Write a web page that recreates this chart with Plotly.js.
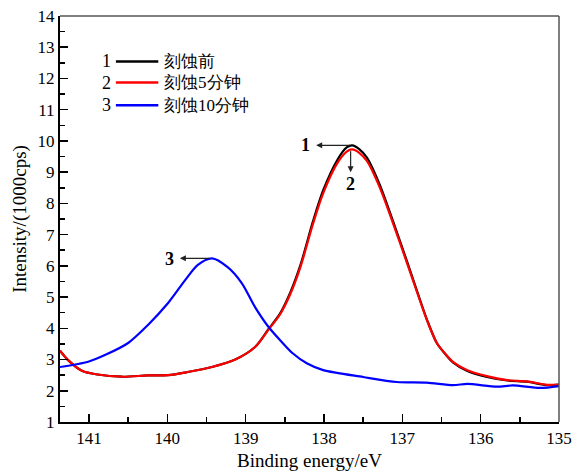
<!DOCTYPE html>
<html><head><meta charset="utf-8">
<script src="https://cdn.plot.ly/plotly-3.0.1.min.js"></script>
<style>html,body{margin:0;padding:0;background:#fff}#chart{width:578px;height:472px}</style>
</head><body><div id="chart"></div>
<script>
const seriesNames = ['刻蚀前', '刻蚀5分钟', '刻蚀10分钟'];
const seriesLabels = ['1', '2', '3'];
const seriesColors = ['#000000', '#ff0000', '#0000ff'];

const xRB = [141.37,141.27,141.09,140.89,140.58,140.25,139.99,139.74,139.43,139.14,138.88,138.71,138.56,138.43,138.30,138.14,138.01,137.83,137.71,137.64,137.55,137.45,137.29,137.12,136.94,136.77,136.68,136.56,136.45,136.35,136.17,135.92,135.66,135.41,135.15,135.00];
const yRed = [3.28,2.99,2.64,2.52,2.45,2.49,2.50,2.60,2.76,2.99,3.40,3.95,4.45,5.10,5.97,7.35,8.33,9.29,9.66,9.73,9.62,9.35,8.52,7.37,6.09,4.85,4.22,3.53,3.18,2.92,2.66,2.47,2.34,2.30,2.19,2.20];
const yBlack = [3.28,2.99,2.64,2.52,2.45,2.49,2.50,2.60,2.76,2.99,3.40,3.97,4.48,5.15,6.03,7.43,8.42,9.39,9.79,9.86,9.74,9.46,8.61,7.44,6.14,4.88,4.24,3.53,3.17,2.90,2.63,2.44,2.33,2.29,2.18,2.20];

const xBlue = [141.37,141.01,140.79,140.50,140.25,139.99,139.77,139.61,139.43,139.23,139.05,138.88,138.71,138.56,138.40,138.22,138.01,137.50,137.07,136.69,136.35,136.17,135.79,135.59,135.24,135.00];
const yBlue = [2.76,2.93,3.15,3.53,4.10,4.81,5.55,6.03,6.24,5.96,5.45,4.68,4.05,3.62,3.20,2.88,2.66,2.44,2.28,2.26,2.18,2.22,2.13,2.17,2.09,2.15];

const serif = 'Liberation Serif';

const traces = [
  {x: xRB, y: yBlack, mode: 'lines', line: {color: seriesColors[0], width: 2.2, shape: 'spline', smoothing: 0.8}, name: seriesNames[0]},
  {x: xRB, y: yRed, mode: 'lines', line: {color: seriesColors[1], width: 2.2, shape: 'spline', smoothing: 0.8}, name: seriesNames[1]},
  {x: xBlue, y: yBlue, mode: 'lines', line: {color: seriesColors[2], width: 2.2, shape: 'spline', smoothing: 0.8}, name: seriesNames[2]}
];

const shapes = [
  {type: 'line', xref: 'paper', yref: 'paper', x0: 0, x1: 1, y0: 1, y1: 1, line: {color: '#555', width: 1.5}},
  {type: 'line', xref: 'paper', yref: 'paper', x0: 1, x1: 1, y0: 0, y1: 1, line: {color: '#555', width: 1.5}}
];
const annotations = [];
const legRowY = [0.888, 0.836, 0.780];
seriesNames.forEach((n, i) => {
  shapes.push({type: 'line', xref: 'paper', yref: 'paper', x0: 0.112, x1: 0.197, y0: legRowY[i], y1: legRowY[i], line: {color: seriesColors[i], width: 2.5}});
  annotations.push({xref: 'paper', yref: 'paper', x: 0.106, y: legRowY[i], text: seriesLabels[i], showarrow: false, xanchor: 'right', yanchor: 'middle', font: {family: serif, size: 18, color: '#000'}});
  annotations.push({xref: 'paper', yref: 'paper', x: 0.205, y: legRowY[i], text: n, showarrow: false, xanchor: 'left', yanchor: 'middle', font: {family: serif, size: 17, color: '#000'}});
});

const peaks = [
  {tx: 137.65, ty: 9.86, hx: 138.10, hy: 9.86, lx: 138.24, ly: 9.86, t: '1'},
  {tx: 137.66, ty: 9.72, hx: 137.66, hy: 9.0, lx: 137.66, ly: 8.62, t: '2'},
  {tx: 139.45, ty: 6.24, hx: 139.84, hy: 6.24, lx: 139.97, ly: 6.22, t: '3'}
];
peaks.forEach(p => {
  annotations.push({x: p.hx, y: p.hy, ax: p.tx, ay: p.ty, axref: 'x', ayref: 'y', xref: 'x', yref: 'y', text: '', showarrow: true, arrowhead: 2, arrowsize: 1, arrowwidth: 1.2, arrowcolor: '#222', standoff: 0, startstandoff: 0});
  annotations.push({x: p.lx, y: p.ly, xref: 'x', yref: 'y', text: '<b>' + p.t + '</b>', showarrow: false, xanchor: 'center', yanchor: 'middle', font: {family: serif, size: 18, color: '#000'}});
});

const layout = {
  width: 578, height: 472,
  margin: {l: 60, r: 19, t: 16, b: 50},
  paper_bgcolor: '#fff', plot_bgcolor: '#fff',
  showlegend: false,
  font: {family: serif, color: '#000'},
  xaxis: {
    range: [141.37, 135], autorange: false,
    tickmode: 'linear', tick0: 0, dtick: 1,
    ticks: 'inside', ticklen: 8, tickwidth: 1.6, tickcolor: '#000',
    minor: {ticks: 'inside', dtick: 0.5, ticklen: 5, tickwidth: 1.6, tickcolor: '#000'},
    showline: true, linecolor: '#000', linewidth: 2,
    showgrid: false, zeroline: false,
    tickfont: {family: serif, size: 17, color: '#000'},
    title: {text: 'Binding energy/eV', font: {family: serif, size: 19, color: '#000'}, standoff: 6}
  },
  yaxis: {
    range: [1, 14], autorange: false,
    tickmode: 'linear', tick0: 0, dtick: 1,
    ticks: 'inside', ticklen: 8, tickwidth: 1.6, tickcolor: '#000',
    minor: {ticks: 'inside', dtick: 0.5, ticklen: 5, tickwidth: 1.6, tickcolor: '#000'},
    showline: true, linecolor: '#000', linewidth: 2,
    showgrid: false, zeroline: false,
    tickfont: {family: serif, size: 17, color: '#000'},
    title: {text: 'Intensity/(1000cps)', font: {family: serif, size: 19, color: '#000'}, standoff: 6}
  },
  shapes: shapes,
  annotations: annotations
};

Plotly.newPlot('chart', traces, layout, {staticPlot: true, displayModeBar: false});
</script></body></html>
